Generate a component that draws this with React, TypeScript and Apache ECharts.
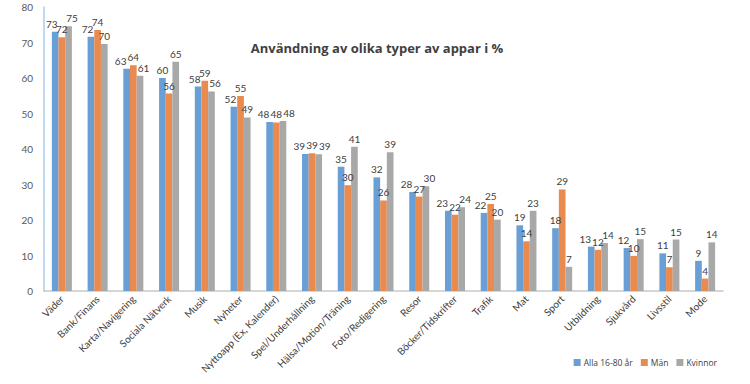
import React, { useEffect, useRef } from "react";
import * as echarts from "echarts";

const categories = [
  "Väder", "Bank/Finans", "Karta/Navigering", "Sociala Nätverk", "Musik", "Nyheter",
  "Nyttoapp (Ex, Kalender)", "Spel/Underhållning", "Hälsa/Motion/Träning", "Foto/Redigering",
  "Resor", "Böcker/Tidskrifter", "Trafik", "Mat", "Sport", "Utbildning", "Sjukvård", "Livsstil", "Mode",
];
const alla = [73, 71.6, 62.6, 60, 57.6, 51.9, 47.6, 38.6, 35, 32, 27.9, 22.6, 22, 18.5, 17.7, 12.5, 12.1, 10.6, 8.5];
const man = [71.5, 73.5, 63.6, 55.6, 59.2, 54.9, 47.5, 38.8, 29.8, 25.5, 26.6, 21.5, 24.5, 14, 28.6, 11.6, 9.9, 6.7, 3.5];
const kvinnor = [74.6, 69.6, 60.6, 64.6, 56.2, 48.9, 47.9, 38.5, 40.6, 39.1, 29.5, 23.6, 20.1, 22.6, 6.8, 13.5, 14.6, 14.5, 13.7];
const seriesNames = ["Alla 16-80 år", "Män", "Kvinnor"];
const seriesColors = ["#6A9FD6", "#E98B4F", "#A8A8A8"];
const yTicks = [0, 10, 20, 30, 40, 50, 60, 70, 80];

export default function App() {
  const ref = useRef<HTMLDivElement>(null);
  useEffect(() => {
    if (!ref.current) return;
    const chart = echarts.init(ref.current, null, { renderer: "svg" });
    const shift = (d: number) => (d < 1.5 ? 6 : d < 3.5 ? 3.5 : 0);
    const mk = (name: string, data: number[], color: string) => ({
      name,
      type: "bar",
      data,
      barGap: "0%",
      barCategoryGap: "44%",
      itemStyle: { color },
      label: {
        show: true,
        position: "top",
        distance: 3,
        fontSize: 10,
        fontFamily: "Lato",
        color: "#404040",
        formatter: (p: any) => String(Math.round(p.value)),
      },
      labelLayout: (params: any) => {
        const i = params.dataIndex;
        const s = params.seriesIndex;
        if (s === 0) return { dx: -shift(Math.abs(alla[i] - man[i])) };
        if (s === 2) return { dx: shift(Math.abs(kvinnor[i] - man[i])) };
        return {};
      },
    });
    chart.setOption({
      animation: false,
      backgroundColor: "#ffffff",
      title: {
        text: "Användning av olika typer av appar i %",
        left: 372,
        top: 36,
        textAlign: "center",
        textStyle: { fontSize: 13, fontWeight: "bold", fontFamily: "Open Sans", color: "#404040" },
      },
      legend: {
        right: 28,
        top: 353,
        itemWidth: 7,
        itemHeight: 7,
        itemGap: 8,
        icon: "rect",
        textStyle: { fontSize: 8.5, fontFamily: "Open Sans", color: "#404040", padding: [0, 0, 0, -2] },
        data: seriesNames,
      },
      grid: { left: 44, right: 27, top: 7, bottom: 93, containLabel: false },
      xAxis: {
        type: "category",
        data: categories,
        axisLine: { lineStyle: { color: "#C8C8C8", width: 1.5 } },
        axisTick: { show: false },
        axisLabel: {
          interval: 0,
          rotate: 45,
          margin: 6,
          fontSize: 10,
          fontFamily: "Lato",
          color: "#404040",
        },
      },
      yAxis: {
        type: "value",
        min: yTicks[0],
        max: yTicks[yTicks.length - 1],
        interval: 10,
        axisLine: { show: true, lineStyle: { color: "#A9CDEB", width: 1.5 } },
        axisTick: { show: false },
        splitLine: { show: false },
        axisLabel: { fontSize: 10, fontFamily: "Lato", color: "#595959", margin: 11 },
      },
      series: [
        mk(seriesNames[0], alla, seriesColors[0]),
        mk(seriesNames[1], man, seriesColors[1]),
        mk(seriesNames[2], kvinnor, seriesColors[2]),
      ],
    });
    return () => chart.dispose();
  }, []);
  return (
    <div
      ref={ref}
      style={{ position: "fixed", left: 0, top: 0, width: 750, height: 384, background: "#fff" }}
    />
  );
}
